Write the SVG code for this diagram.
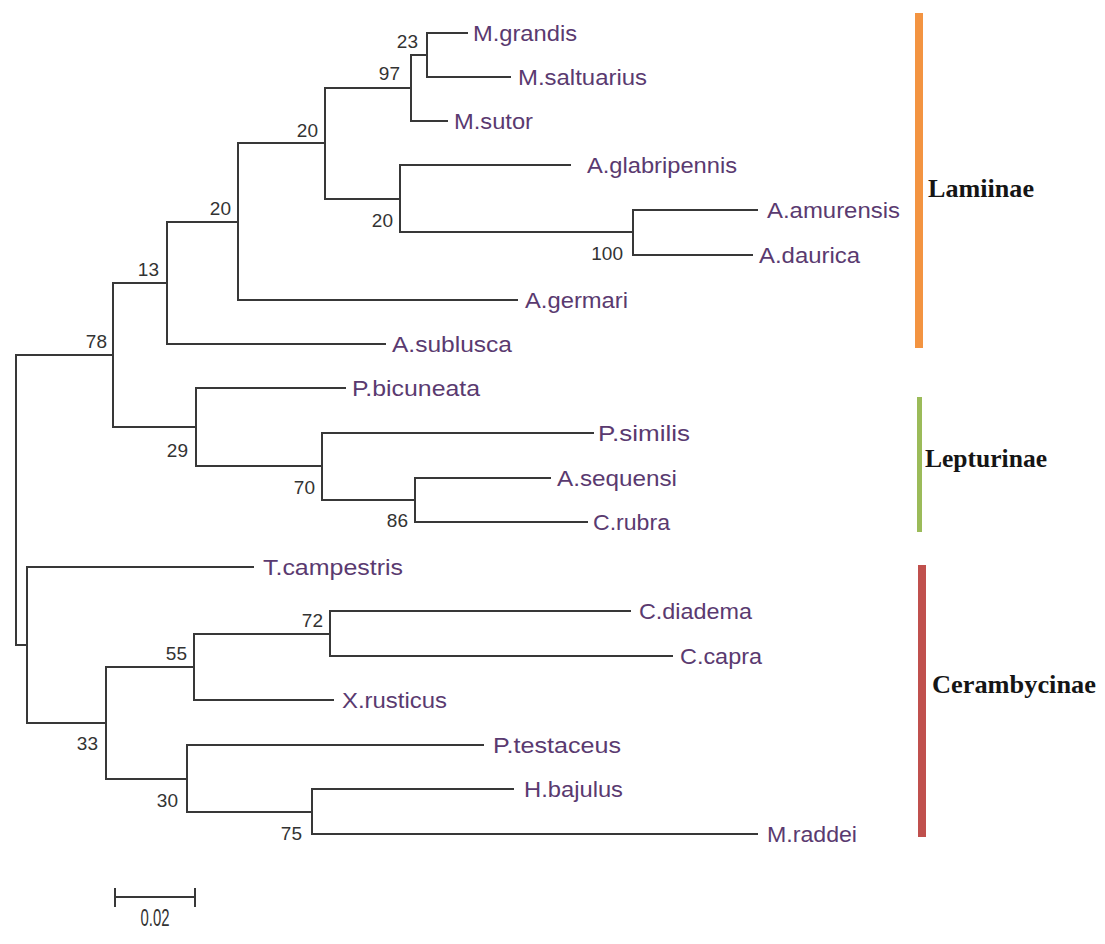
<svg xmlns="http://www.w3.org/2000/svg" width="1105" height="944" viewBox="0 0 1105 944">
<style>
.br{fill:none;stroke:#383838;stroke-width:2;stroke-linecap:square}
.tip{font-family:"Liberation Sans",Arial,sans-serif;font-size:22px;fill:#5a3a70}
.bs{font-family:"Liberation Sans",Arial,sans-serif;font-size:19px;fill:#333;text-anchor:end}
.clade{font-family:"Liberation Serif","Times New Roman",serif;font-size:26px;font-weight:bold;fill:#151515}
</style>
<rect width="1105" height="944" fill="#fff"/>
<g id="connectors">
<path class="br" d="M467,33 H427 V77 H510"/>
<path class="br" d="M427,55 H411 V121 H447"/>
<path class="br" d="M757,210 H633 V255 H752"/>
<path class="br" d="M570,165 H400 V232 H633"/>
<path class="br" d="M411,88 H325 V199 H400"/>
<path class="br" d="M325,143 H238 V300 H517"/>
<path class="br" d="M238,222 H167 V344 H385"/>
<path class="br" d="M550,478 H415 V522 H587"/>
<path class="br" d="M593,433 H322 V500 H415"/>
<path class="br" d="M345,388 H196 V466 H322"/>
<path class="br" d="M167,283 H113 V427 H196"/>
<path class="br" d="M630,611 H330 V656 H672"/>
<path class="br" d="M330,634 H194 V700 H333"/>
<path class="br" d="M513,789 H312 V834 H757"/>
<path class="br" d="M483,745 H187 V812 H312"/>
<path class="br" d="M194,667 H106 V779 H187"/>
<path class="br" d="M253,567 H27 V723 H106"/>
<path class="br" d="M113,355 H16 V645 H27"/>
</g>
<g id="taxa">
<g id="t-mgrandis"><text class="tip" x="473" y="41" textLength="104" lengthAdjust="spacingAndGlyphs">M.grandis</text></g>
<g id="t-msaltuarius"><text class="tip" x="518" y="85" textLength="129" lengthAdjust="spacingAndGlyphs">M.saltuarius</text></g>
<g id="t-msutor"><text class="tip" x="454" y="129" textLength="79" lengthAdjust="spacingAndGlyphs">M.sutor</text></g>
<g id="t-aglabripennis"><text class="tip" x="587" y="173" textLength="150" lengthAdjust="spacingAndGlyphs">A.glabripennis</text></g>
<g id="t-aamurensis"><text class="tip" x="767" y="218" textLength="133" lengthAdjust="spacingAndGlyphs">A.amurensis</text></g>
<g id="t-adaurica"><text class="tip" x="759" y="263" textLength="101" lengthAdjust="spacingAndGlyphs">A.daurica</text></g>
<g id="t-agermari"><text class="tip" x="525" y="308" textLength="103" lengthAdjust="spacingAndGlyphs">A.germari</text></g>
<g id="t-asublusca"><text class="tip" x="392" y="352" textLength="120" lengthAdjust="spacingAndGlyphs">A.sublusca</text></g>
<g id="t-pbicuneata"><text class="tip" x="352" y="396" textLength="128" lengthAdjust="spacingAndGlyphs">P.bicuneata</text></g>
<g id="t-psimilis"><text class="tip" x="598" y="441" textLength="92" lengthAdjust="spacingAndGlyphs">P.similis</text></g>
<g id="t-asequensi"><text class="tip" x="557" y="486" textLength="120" lengthAdjust="spacingAndGlyphs">A.sequensi</text></g>
<g id="t-crubra"><text class="tip" x="593" y="530" textLength="77" lengthAdjust="spacingAndGlyphs">C.rubra</text></g>
<g id="t-tcampestris"><text class="tip" x="263" y="575" textLength="140" lengthAdjust="spacingAndGlyphs">T.campestris</text></g>
<g id="t-cdiadema"><text class="tip" x="639" y="619" textLength="113" lengthAdjust="spacingAndGlyphs">C.diadema</text></g>
<g id="t-ccapra"><text class="tip" x="680" y="664" textLength="82" lengthAdjust="spacingAndGlyphs">C.capra</text></g>
<g id="t-xrusticus"><text class="tip" x="342" y="708" textLength="105" lengthAdjust="spacingAndGlyphs">X.rusticus</text></g>
<g id="t-ptestaceus"><text class="tip" x="493" y="753" textLength="128" lengthAdjust="spacingAndGlyphs">P.testaceus</text></g>
<g id="t-hbajulus"><text class="tip" x="524" y="797" textLength="99" lengthAdjust="spacingAndGlyphs">H.bajulus</text></g>
<g id="t-mraddei"><text class="tip" x="767" y="842" textLength="90" lengthAdjust="spacingAndGlyphs">M.raddei</text></g>
</g>
<g id="bootstrap">
<g id="b23"><text class="bs" x="418" y="48">23</text></g>
<g id="b97"><text class="bs" x="400" y="80">97</text></g>
<g id="b20a"><text class="bs" x="318" y="137">20</text></g>
<g id="b20b"><text class="bs" x="231" y="215">20</text></g>
<g id="b13"><text class="bs" x="159" y="276">13</text></g>
<g id="b78"><text class="bs" x="107" y="348">78</text></g>
<g id="b20c"><text class="bs" x="393" y="227">20</text></g>
<g id="b100"><text class="bs" x="623" y="260">100</text></g>
<g id="b29"><text class="bs" x="188" y="457">29</text></g>
<g id="b70"><text class="bs" x="315" y="494">70</text></g>
<g id="b86"><text class="bs" x="408" y="527">86</text></g>
<g id="b72"><text class="bs" x="323" y="627">72</text></g>
<g id="b55"><text class="bs" x="187" y="660">55</text></g>
<g id="b33"><text class="bs" x="98" y="750">33</text></g>
<g id="b30"><text class="bs" x="178" y="807">30</text></g>
<g id="b75"><text class="bs" x="302" y="840">75</text></g>
</g>
<g id="scalebar">
<path class="br" d="M115,897 H195 M115,889 V906 M195,889 V906" stroke-linecap="butt"/>
<text x="155" y="926" text-anchor="middle" font-family="'Liberation Sans',Arial,sans-serif" font-size="23" fill="#333" textLength="29" lengthAdjust="spacingAndGlyphs">0.02</text>
</g>
<g id="clade-lamiinae">
<rect x="915" y="13" width="8" height="335" fill="#f39441"/>
<text class="clade" x="928" y="197" textLength="106" lengthAdjust="spacingAndGlyphs">Lamiinae</text>
</g>
<g id="clade-lepturinae">
<rect x="917" y="397" width="5" height="135" fill="#9bbb59"/>
<text class="clade" x="925" y="467" textLength="122" lengthAdjust="spacingAndGlyphs">Lepturinae</text>
</g>
<g id="clade-cerambycinae">
<rect x="918" y="565" width="8" height="272" fill="#c0504d"/>
<text class="clade" x="932" y="693" textLength="164" lengthAdjust="spacingAndGlyphs">Cerambycinae</text>
</g>
</svg>
